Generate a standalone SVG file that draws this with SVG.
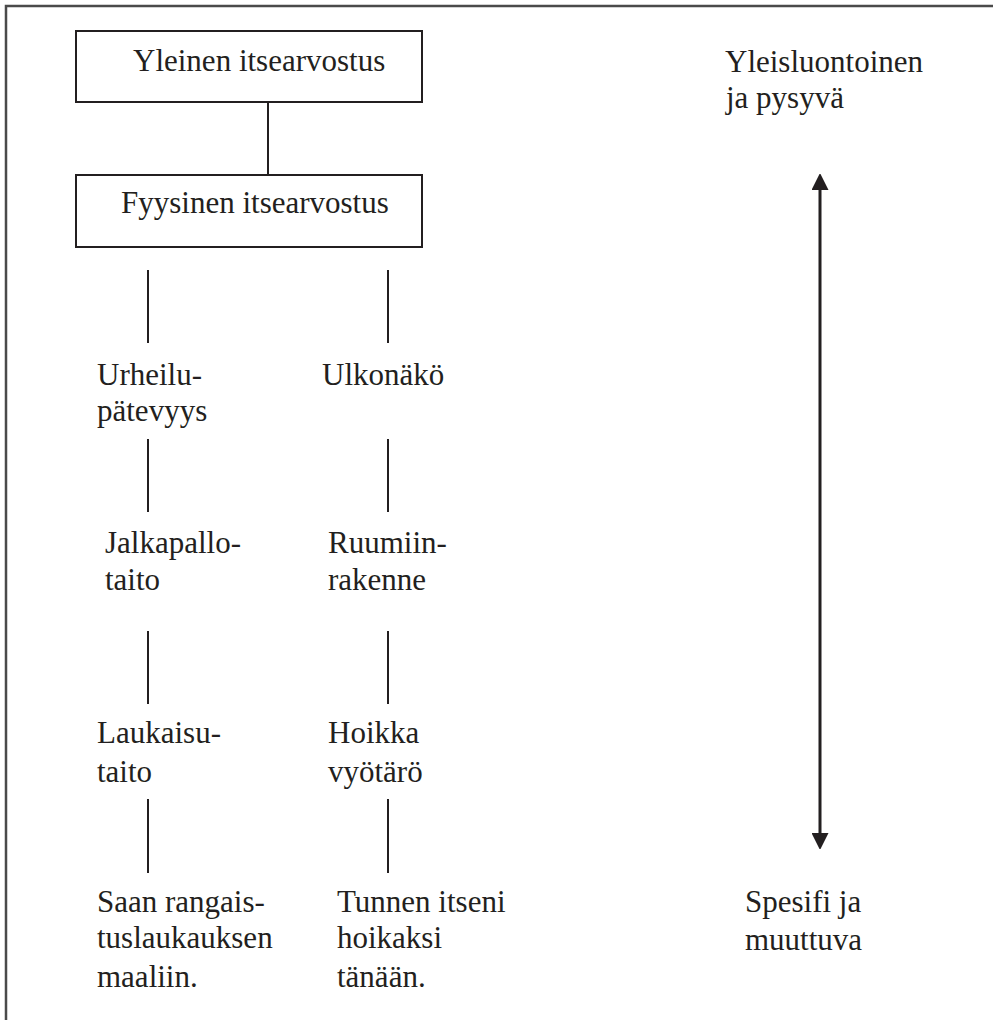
<svg xmlns="http://www.w3.org/2000/svg" width="993" height="1020" viewBox="0 0 993 1020">
  <style>
    .t { font-family: "Liberation Serif", "Times New Roman", serif; font-size: 31px; fill: #231f20; }
    .box { fill: #ffffff; stroke: #231f20; stroke-width: 2; }
    .ln { stroke: #231f20; stroke-width: 2; fill: none; }
    .frame { stroke: #4a4a4a; stroke-width: 2.5; fill: none; }
    .arrow { stroke: #231f20; stroke-width: 3; fill: none; }
  </style>
  <defs>
    <marker id="head" viewBox="0 0 16 17" refX="0" refY="8.5" markerWidth="16" markerHeight="17" markerUnits="userSpaceOnUse" orient="auto-start-reverse">
      <path d="M0,0 L17,8.5 L0,17 Z" fill="#231f20"/>
    </marker>
  </defs>
  <rect width="993" height="1020" fill="#ffffff"/>

  <!-- outer frame: top and left edges only -->
  <path class="frame" d="M6,1020 V6 H993"/>

  <!-- connectors -->
  <g id="connectors">
    <line class="ln" x1="268" y1="102" x2="268" y2="175"/>
    <line class="ln" x1="148" y1="270" x2="148" y2="343"/>
    <line class="ln" x1="388" y1="270" x2="388" y2="343"/>
    <line class="ln" x1="148" y1="439" x2="148" y2="512"/>
    <line class="ln" x1="388" y1="439" x2="388" y2="512"/>
    <line class="ln" x1="148" y1="631" x2="148" y2="704"/>
    <line class="ln" x1="388" y1="631" x2="388" y2="704"/>
    <line class="ln" x1="148" y1="799" x2="148" y2="873"/>
    <line class="ln" x1="388" y1="799" x2="388" y2="873"/>
    <line class="arrow" x1="820" y1="190" x2="820" y2="833" marker-start="url(#head)" marker-end="url(#head)"/>
  </g>

  <g id="yleinen">
    <rect class="box" x="76" y="31" width="346" height="71"/>
    <text class="t" x="133" y="71">Yleinen itsearvostus</text>
  </g>
  <g id="fyysinen">
    <rect class="box" x="76" y="175" width="346" height="72"/>
    <text class="t" x="121" y="213">Fyysinen itsearvostus</text>
  </g>

  <g id="urheilu">
    <text class="t" x="97" y="385">Urheilu-</text>
    <text class="t" x="97" y="421">pätevyys</text>
  </g>
  <g id="ulkonako">
    <text class="t" x="322" y="385">Ulkonäkö</text>
  </g>
  <g id="jalkapallo">
    <text class="t" x="105" y="553">Jalkapallo-</text>
    <text class="t" x="105" y="590">taito</text>
  </g>
  <g id="ruumiin">
    <text class="t" x="328" y="553">Ruumiin-</text>
    <text class="t" x="328" y="590">rakenne</text>
  </g>
  <g id="laukaisu">
    <text class="t" x="97" y="743">Laukaisu-</text>
    <text class="t" x="97" y="782">taito</text>
  </g>
  <g id="hoikka">
    <text class="t" x="328" y="743">Hoikka</text>
    <text class="t" x="328" y="782">vyötärö</text>
  </g>
  <g id="saan">
    <text class="t" x="97" y="912">Saan rangais-</text>
    <text class="t" x="97" y="948">tuslaukauksen</text>
    <text class="t" x="97" y="987">maaliin.</text>
  </g>
  <g id="tunnen">
    <text class="t" x="337" y="912">Tunnen itseni</text>
    <text class="t" x="337" y="948">hoikaksi</text>
    <text class="t" x="337" y="987">tänään.</text>
  </g>

  <g id="yleisluontoinen">
    <text class="t" x="725" y="72">Yleisluontoinen</text>
    <text class="t" x="726" y="108">ja pysyvä</text>
  </g>
  <g id="spesifi">
    <text class="t" x="745" y="912">Spesifi ja</text>
    <text class="t" x="745" y="950">muuttuva</text>
  </g>
</svg>
